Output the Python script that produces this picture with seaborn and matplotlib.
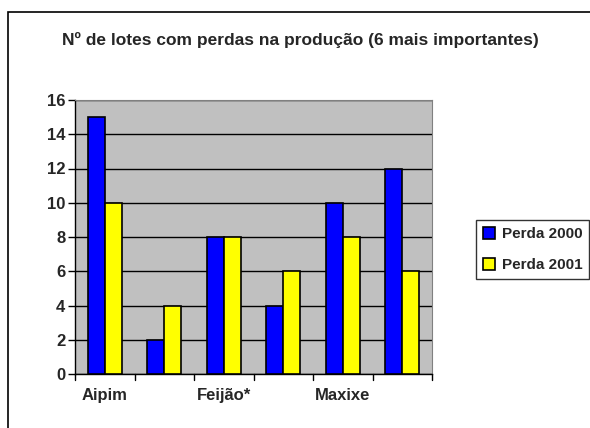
import matplotlib
matplotlib.use("Agg")
import matplotlib.pyplot as plt
import seaborn as sns
import pandas as pd
from matplotlib.patches import Rectangle

# Data
categories = ["Aipim", "Cultura 2", "Feijão*", "Cultura 4", "Maxixe", "Cultura 6"]
tick_labels = ["Aipim", "", "Feijão*", "", "Maxixe", ""]
perda_2000 = [15, 2, 8, 4, 10, 12]
perda_2001 = [10, 4, 8, 6, 8, 6]
series_names = ["Perda 2000", "Perda 2001"]
yticks = [0, 2, 4, 6, 8, 10, 12, 14, 16]

df = pd.DataFrame({
    "categoria": categories * 2,
    "valor": perda_2000 + perda_2001,
    "serie": [series_names[0]] * len(categories) + [series_names[1]] * len(categories),
})

sns.set_style("white")
plt.rcParams["font.family"] = ["Liberation Sans", "DejaVu Sans"]
plt.rcParams["font.weight"] = "bold"

fig = plt.figure(figsize=(5.9, 4.28), dpi=100)
ax = fig.add_axes([75 / 590, 1 - 374 / 428, (432 - 75) / 590, (374 - 100) / 428])

sns.barplot(data=df, x="categoria", y="valor", hue="serie", order=categories,
            palette=["#0000FF", "#FFFF00"], saturation=1, edgecolor="black",
            linewidth=1.2, width=0.57, ax=ax, zorder=3)

ax.set_facecolor("#C0C0C0")
ax.set_ylim(0, 16)
ax.set_yticks(yticks)
ax.set_yticklabels([str(t) for t in yticks], fontsize=12, fontweight="bold")
ax.set_xticks(range(len(categories)))
ax.set_xticklabels(tick_labels, fontsize=12, fontweight="bold")
ax.set_xlim(-0.5, len(categories) - 0.5)
ax.grid(axis="y", color="black", linewidth=1, zorder=0)
ax.set_axisbelow(True)
ax.set_xlabel("")
ax.set_ylabel("")
ax.tick_params(axis="y", length=5, color="black", width=1, pad=2, left=True)
ax.tick_params(axis="x", length=0, pad=10)
# category separator ticks on the x axis
for b in range(len(categories) + 1):
    ax.plot([b - 0.5, b - 0.5], [0, -0.35], color="black", lw=1, clip_on=False)
for side in ["top", "right"]:
    ax.spines[side].set_color("#808080")
for side in ["left", "bottom"]:
    ax.spines[side].set_color("black")
    ax.spines[side].set_linewidth(1)

leg = ax.legend(loc="center left", bbox_to_anchor=((476 - 75) / (432 - 75), 0.454),
                frameon=True, fancybox=False, edgecolor="black",
                handlelength=0.8, handleheight=0.8, handletextpad=0.45,
                labelspacing=1.1, borderpad=0.45, borderaxespad=0,
                prop={"weight": "bold", "size": 11})
leg.get_frame().set_linewidth(1)
for h in leg.legend_handles:
    h.set_edgecolor("black")

fig.text(300 / 590, 1 - 40 / 428, "Nº de lotes com perdas na produção (6 mais importantes)",
         ha="center", va="center", fontsize=12.5, fontweight="bold")

# outer chart border
fig.patches.append(Rectangle((8 / 590, -0.1), 1.2, 1 - 12 / 428 + 0.1,
                             transform=fig.transFigure, fill=False,
                             edgecolor="black", linewidth=1.2))

fig.savefig("out.png", dpi=100)
